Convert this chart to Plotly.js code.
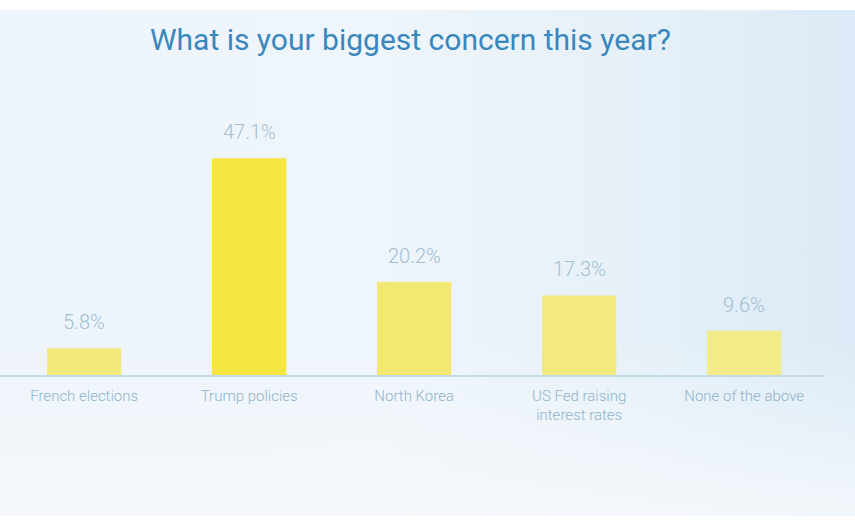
<!DOCTYPE html>
<html>
<head>
<meta charset="utf-8">
<script src="https://cdn.plot.ly/plotly-3.0.1.min.js"></script>
<style>
html,body{margin:0;padding:0;background:#ffffff;}
#wrap{width:855px;height:522px;position:relative;background:#ffffff;}
#bg{position:absolute;left:0;top:10px;width:855px;height:506px;
  background:linear-gradient(90deg,#eef4fb 0%,#eef5fb 45%,#e6f0f8 75%,#dbeaf6 100%);}
#bg2{position:absolute;left:0;top:10px;width:855px;height:506px;
  background:linear-gradient(180deg,rgba(255,255,255,0) 0%,rgba(255,255,255,0) 65%,rgba(246,249,252,0.85) 100%);}
#chart{position:absolute;left:0;top:0;width:855px;height:522px;}
</style>
</head>
<body>
<div id="wrap"><div id="bg"></div><div id="bg2"></div><div id="chart"></div></div>
<script>
const categories = ["French elections", "Trump policies", "North Korea", "US Fed raising<br>interest rates", "None of the above"];
const values = [5.8, 47.1, 20.2, 17.3, 9.6];
const barColors = ["#f3e87a", "#f6e640", "#f3e872", "#f3e97e", "#f3ea88"];
const valueLabels = values.map(v => v.toFixed(1) + "%");

const trace = {
  type: "bar",
  x: categories,
  y: values,
  marker: {color: barColors},
  width: 0.45,
  hoverinfo: "none"
};

const labelAnnotations = categories.map((c, i) => ({
  x: c,
  y: values[i],
  xref: "x",
  yref: "y",
  text: valueLabels[i],
  showarrow: false,
  yanchor: "bottom",
  yshift: 12,
  font: {family: "Roboto, sans-serif", size: 20, color: "#a3bfd2", weight: 300}
}));

const layout = {
  width: 855,
  height: 522,
  margin: {l: 0, r: 30, t: 145, b: 147},
  paper_bgcolor: "rgba(0,0,0,0)",
  plot_bgcolor: "rgba(0,0,0,0)",
  showlegend: false,
  title: {
    text: "What is your biggest concern this year?",
    font: {family: "Roboto, sans-serif", size: 30, color: "#3a87bd"},
    x: 0.48, xanchor: "center",
    y: 0.925, yanchor: "middle"
  },
  annotations: labelAnnotations,
  xaxis: {
    type: "category",
    range: [-0.51, 4.49],
    showline: true,
    linecolor: "#c3dae8",
    linewidth: 1.5,
    showgrid: false,
    zeroline: false,
    ticks: "",
    tickfont: {family: "Roboto, sans-serif", size: 15, color: "#8fb3cb", weight: 300},
    ticklabelstandoff: 6
  },
  yaxis: {
    range: [0, 50],
    visible: false,
    showgrid: false,
    zeroline: false
  }
};

Plotly.newPlot("chart", [trace], layout, {displayModeBar: false, staticPlot: true});
</script>
</body>
</html>
